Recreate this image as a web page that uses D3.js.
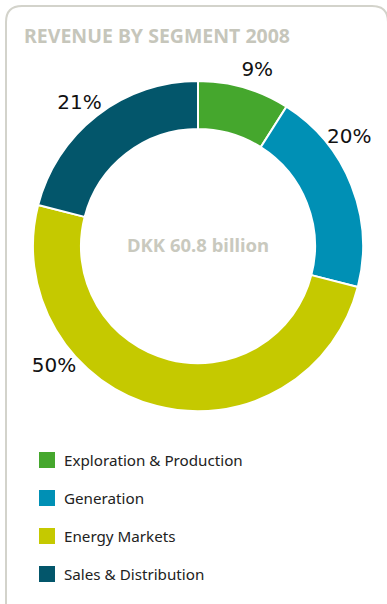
<!DOCTYPE html>
<html><head><meta charset="utf-8">
<script src="https://cdn.jsdelivr.net/npm/d3@7"></script>
<style>html,body{margin:0;padding:0;background:#fff;}svg{display:block;}</style>
</head><body>
<svg id="c" width="387" height="604"></svg>
<script>
const categories = ["Exploration & Production", "Generation", "Energy Markets", "Sales & Distribution"];
const values = [9, 20, 50, 21];
const colors = ["#45a72d", "#0090b5", "#c5c900", "#03566b"];
const title = "REVENUE BY SEGMENT 2008";
const centerLabel = "DKK 60.8 billion";
// where each % label sits within its slice (0 = slice start, 1 = slice end)
const labelFrac = [0.57, 0.30, 0.70, 0.48];

const svg = d3.select("#c");
svg.append("path")
  .attr("d", "M6,620 L6,22 Q6,6 22,6 L372,6 Q388,6 388,22 L388,620")
  .attr("fill", "none").attr("stroke", "#d3d3cb").attr("stroke-width", 2);

svg.append("text").attr("x", 24).attr("y", 43).text(title)
  .attr("font-family", "'Noto Sans', sans-serif").attr("font-weight", "bold")
  .attr("font-size", 19.5).attr("fill", "#c6c6bb");

const cx = 198, cy = 246, R = 165, r = 117, LR = 187;
const pie = d3.pie().sort(null).value(d => d)(values);
const arc = d3.arc().innerRadius(r).outerRadius(R);
const g = svg.append("g").attr("transform", `translate(${cx},${cy})`);
g.selectAll("path").data(pie).join("path")
  .attr("d", arc).attr("fill", (d, i) => colors[i])
  .attr("stroke", "#fff").attr("stroke-width", 2);

g.selectAll("text.pct").data(pie).join("text").attr("class", "pct")
  .attr("transform", (d, i) => {
    const a = d.startAngle + (d.endAngle - d.startAngle) * labelFrac[i];
    return `translate(${LR * Math.sin(a)},${-LR * Math.cos(a)})`;
  })
  .attr("text-anchor", "middle").attr("dy", "0.36em")
  .attr("font-family", "'DejaVu Sans', sans-serif").attr("font-size", 20).attr("fill", "#111")
  .text(d => d.data + "%");

g.append("text").attr("y", 5.5).attr("text-anchor", "middle").text(centerLabel)
  .attr("font-family", "'Noto Sans', sans-serif").attr("font-weight", "bold")
  .attr("font-size", 18.5).attr("fill", "#c9c9be");

const lg = svg.append("g");
const yScale = d3.scalePoint().domain(categories).range([452, 566]);
categories.forEach((c, i) => {
  lg.append("rect").attr("x", 39).attr("y", yScale(c)).attr("width", 16).attr("height", 16).attr("fill", colors[i]);
  lg.append("text").attr("x", 64).attr("y", yScale(c) + 13.5).text(c)
    .attr("font-family", "'Noto Sans', sans-serif").attr("font-size", 15.2).attr("fill", "#222");
});
</script>
</body></html>
